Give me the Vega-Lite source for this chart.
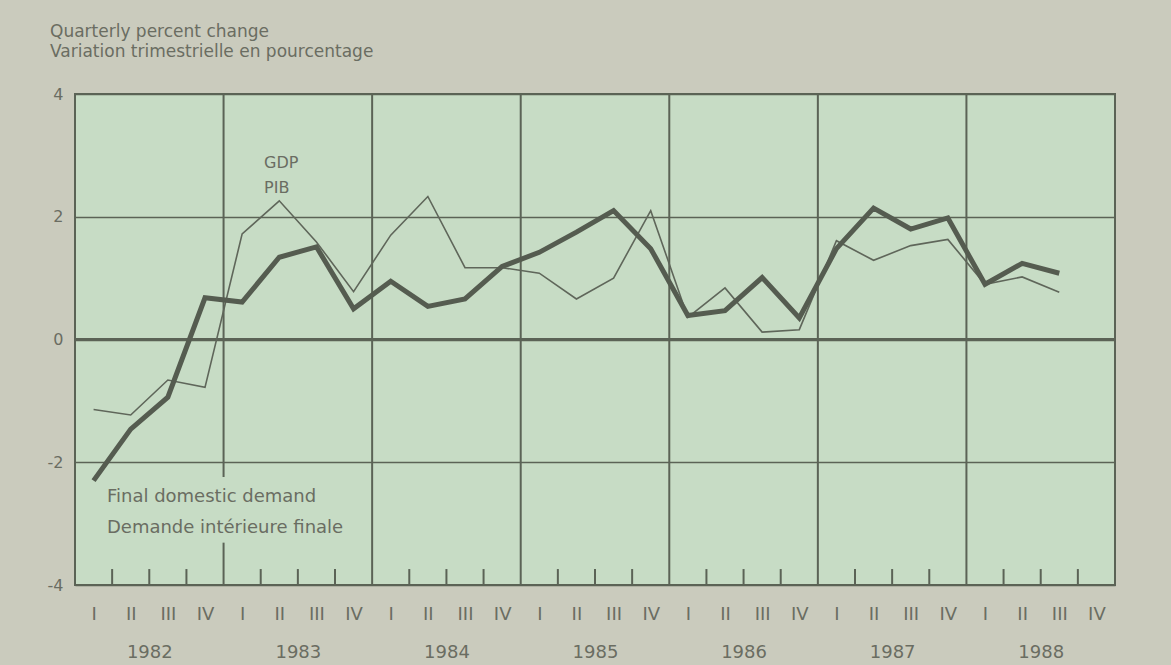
{
  "$schema": "https://vega.github.io/schema/vega-lite/v6.json",
  "width": 1040,
  "height": 491,
  "autosize": {"type": "none"},
  "padding": {"left": 75, "top": 94, "right": 56, "bottom": 80},
  "background": "#cacbbd",
  "config": {
    "font": "DejaVu Sans",
    "view": {"fill": "#c7dcc5", "stroke": "#5b6356", "strokeWidth": 2},
    "axis": {"labelColor": "#6a6d62", "labelFont": "DejaVu Sans", "domain": false, "ticks": false, "title": null, "grid": false}
  },
  "title": {
    "text": ["Quarterly percent change", "Variation trimestrielle en pourcentage"],
    "anchor": "start",
    "frame": "group",
    "dx": -25,
    "fontSize": 17,
    "fontWeight": "normal",
    "font": "DejaVu Sans",
    "color": "#6a6d62",
    "lineHeight": 20,
    "offset": 25
  },
  "datasets": {
    "series": [
      {"t": 0.5, "series": "GDP", "value": -1.14},
      {"t": 1.5, "series": "GDP", "value": -1.23},
      {"t": 2.5, "series": "GDP", "value": -0.66},
      {"t": 3.5, "series": "GDP", "value": -0.78},
      {"t": 4.5, "series": "GDP", "value": 1.72},
      {"t": 5.5, "series": "GDP", "value": 2.26},
      {"t": 6.5, "series": "GDP", "value": 1.59},
      {"t": 7.5, "series": "GDP", "value": 0.78},
      {"t": 8.5, "series": "GDP", "value": 1.70},
      {"t": 9.5, "series": "GDP", "value": 2.33},
      {"t": 10.5, "series": "GDP", "value": 1.17},
      {"t": 11.5, "series": "GDP", "value": 1.17},
      {"t": 12.5, "series": "GDP", "value": 1.08},
      {"t": 13.5, "series": "GDP", "value": 0.66},
      {"t": 14.5, "series": "GDP", "value": 1.00},
      {"t": 15.5, "series": "GDP", "value": 2.10},
      {"t": 16.5, "series": "GDP", "value": 0.36},
      {"t": 17.5, "series": "GDP", "value": 0.84},
      {"t": 18.5, "series": "GDP", "value": 0.12},
      {"t": 19.5, "series": "GDP", "value": 0.16},
      {"t": 20.5, "series": "GDP", "value": 1.61},
      {"t": 21.5, "series": "GDP", "value": 1.29},
      {"t": 22.5, "series": "GDP", "value": 1.53},
      {"t": 23.5, "series": "GDP", "value": 1.63},
      {"t": 24.5, "series": "GDP", "value": 0.90},
      {"t": 25.5, "series": "GDP", "value": 1.02},
      {"t": 26.5, "series": "GDP", "value": 0.77},
      {"t": 0.5, "series": "FDD", "value": -2.30},
      {"t": 1.5, "series": "FDD", "value": -1.46},
      {"t": 2.5, "series": "FDD", "value": -0.94},
      {"t": 3.5, "series": "FDD", "value": 0.68},
      {"t": 4.5, "series": "FDD", "value": 0.61},
      {"t": 5.5, "series": "FDD", "value": 1.34},
      {"t": 6.5, "series": "FDD", "value": 1.51},
      {"t": 7.5, "series": "FDD", "value": 0.50},
      {"t": 8.5, "series": "FDD", "value": 0.95},
      {"t": 9.5, "series": "FDD", "value": 0.54},
      {"t": 10.5, "series": "FDD", "value": 0.66},
      {"t": 11.5, "series": "FDD", "value": 1.19},
      {"t": 12.5, "series": "FDD", "value": 1.42},
      {"t": 13.5, "series": "FDD", "value": 1.75},
      {"t": 14.5, "series": "FDD", "value": 2.10},
      {"t": 15.5, "series": "FDD", "value": 1.48},
      {"t": 16.5, "series": "FDD", "value": 0.39},
      {"t": 17.5, "series": "FDD", "value": 0.47},
      {"t": 18.5, "series": "FDD", "value": 1.01},
      {"t": 19.5, "series": "FDD", "value": 0.35},
      {"t": 20.5, "series": "FDD", "value": 1.48},
      {"t": 21.5, "series": "FDD", "value": 2.14},
      {"t": 22.5, "series": "FDD", "value": 1.80},
      {"t": 23.5, "series": "FDD", "value": 1.98},
      {"t": 24.5, "series": "FDD", "value": 0.90},
      {"t": 25.5, "series": "FDD", "value": 1.24},
      {"t": 26.5, "series": "FDD", "value": 1.08}
    ],
    "grid": [
      {"t": 4, "lo": -4, "hi": -3.31},
      {"t": 4, "lo": -2.24, "hi": 4},
      {"t": 8, "lo": -4, "hi": 4},
      {"t": 12, "lo": -4, "hi": 4},
      {"t": 16, "lo": -4, "hi": 4},
      {"t": 20, "lo": -4, "hi": 4},
      {"t": 24, "lo": -4, "hi": 4}
    ],
    "qticks": [
      {"t": 1}, {"t": 2}, {"t": 3}, {"t": 5}, {"t": 6}, {"t": 7},
      {"t": 9}, {"t": 10}, {"t": 11}, {"t": 13}, {"t": 14}, {"t": 15},
      {"t": 17}, {"t": 18}, {"t": 19}, {"t": 21}, {"t": 22}, {"t": 23},
      {"t": 25}, {"t": 26}, {"t": 27}
    ],
    "notesSmall": [
      {"text": "GDP", "t": 5.09, "v": 2.79},
      {"text": "PIB", "t": 5.09, "v": 2.38}
    ],
    "notesLarge": [
      {"text": "Final domestic demand", "t": 0.86, "v": -2.64},
      {"text": "Demande intérieure finale", "t": 0.86, "v": -3.15}
    ]
  },
  "layer": [
    {
      "data": {"name": "grid"},
      "mark": {"type": "rule", "color": "#5b6356", "strokeWidth": 2},
      "encoding": {
        "x": {
          "field": "t", "type": "quantitative",
          "scale": {"domain": [0, 28], "nice": false, "zero": false},
          "axis": {
            "orient": "bottom",
            "values": [2, 6, 10, 14, 18, 22, 26],
            "labelExpr": "'' + (1982 + (datum.value - 2) / 4)",
            "labelFontSize": 18,
            "labelPadding": 58,
            "labelOverlap": false
          }
        },
        "y": {
          "field": "lo", "type": "quantitative",
          "scale": {"domain": [-4, 4], "nice": false},
          "axis": {
            "values": [-4, -2, 0, 2, 4],
            "grid": true,
            "gridColor": "#5b6356",
            "gridWidth": 1.5,
            "labelFontSize": 16,
            "labelPadding": 12,
            "labelExpr": "datum.value < 0 ? '-' + abs(datum.value) : '' + datum.value"
          }
        },
        "y2": {"field": "hi"}
      }
    },
    {
      "data": {"values": [{}]},
      "mark": {"type": "rule", "color": "#5b6356", "strokeWidth": 3},
      "encoding": {"y": {"datum": 0}}
    },
    {
      "data": {"name": "qticks"},
      "mark": {"type": "rule", "color": "#5b6356", "strokeWidth": 2},
      "encoding": {
        "x": {"field": "t", "type": "quantitative", "axis": null},
        "y": {"datum": -4},
        "y2": {"datum": -3.74}
      }
    },
    {
      "data": {"name": "series"},
      "transform": [{"filter": "datum.series === 'GDP'"}],
      "mark": {"type": "line", "color": "#5f665a", "strokeWidth": 1.6},
      "encoding": {
        "x": {
          "field": "t", "type": "quantitative",
          "axis": {
            "orient": "bottom",
            "values": [0.5, 1.5, 2.5, 3.5, 4.5, 5.5, 6.5, 7.5, 8.5, 9.5, 10.5, 11.5, 12.5, 13.5, 14.5, 15.5, 16.5, 17.5, 18.5, 19.5, 20.5, 21.5, 22.5, 23.5, 24.5, 25.5, 26.5, 27.5],
            "labelExpr": "['I','II','III','IV'][floor(datum.value) % 4]",
            "labelFontSize": 18,
            "labelPadding": 20,
            "labelOverlap": false,
            "labelFlush": false
          }
        },
        "y": {"field": "value", "type": "quantitative"}
      }
    },
    {
      "data": {"name": "series"},
      "transform": [{"filter": "datum.series === 'FDD'"}],
      "mark": {"type": "line", "color": "#555c50", "strokeWidth": 5, "strokeJoin": "miter"},
      "encoding": {
        "x": {"field": "t", "type": "quantitative", "axis": null},
        "y": {"field": "value", "type": "quantitative"}
      }
    },
    {
      "data": {"name": "notesSmall"},
      "mark": {"type": "text", "align": "left", "baseline": "alphabetic", "fontSize": 16, "color": "#6a6d62"},
      "encoding": {
        "x": {"field": "t", "type": "quantitative", "axis": null},
        "y": {"field": "v", "type": "quantitative"},
        "text": {"field": "text"}
      }
    },
    {
      "data": {"name": "notesLarge"},
      "mark": {"type": "text", "align": "left", "baseline": "alphabetic", "fontSize": 18, "color": "#6a6d62"},
      "encoding": {
        "x": {"field": "t", "type": "quantitative", "axis": null},
        "y": {"field": "v", "type": "quantitative"},
        "text": {"field": "text"}
      }
    }
  ],
  "resolve": {"axis": {"x": "independent"}}
}
